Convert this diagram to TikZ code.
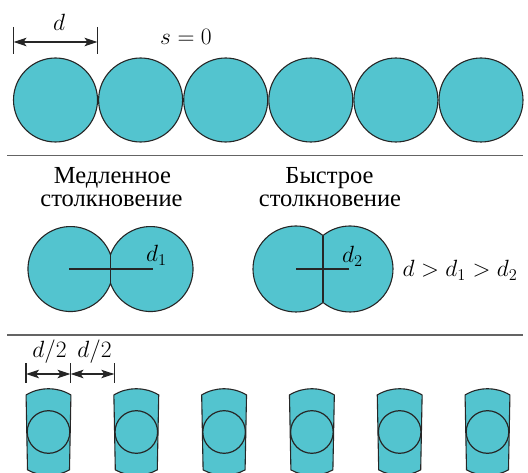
\RequirePackage{fix-cm}
\documentclass[tikz,border=0pt]{standalone}
\usepackage[no-math]{fontspec}
\newfontfamily\cyrfont{Liberation Serif}
\usetikzlibrary{arrows.meta}
\definecolor{ballfill}{RGB}{83,196,207}
\definecolor{rulegray}{RGB}{100,100,100}
\begin{document}
\begin{tikzpicture}[x=1pt,y=1pt,
 ball/.style={circle,draw=black!85,line width=1.1pt,fill=ballfill,minimum size=84pt,inner sep=0pt},
 shapeline/.style={draw=black!85,line width=1.1pt,fill=ballfill},
 sepline/.style={draw=rulegray,line width=1.8pt},
 tickline/.style={line width=1.2pt,draw=black!85},
 dimline/.style={line width=1.1pt,draw=black!85,{Stealth[length=13pt,width=8.5pt,inset=3pt]}-{Stealth[length=13pt,width=8.5pt,inset=3pt]}},
 lbl/.style={inner sep=0pt,font=\fontsize{23.5}{26}\selectfont},
 cyr/.style={inner sep=0pt,font=\fontsize{24.5}{26}\selectfont\cyrfont,anchor=base}
]
\useasboundingbox (0,0) rectangle (528,472);
\clip (0,0) rectangle (528,472);
% top row
\foreach \i/\x in {1/55.5,2/140.6,3/225.7,4/310.8,5/395.9,6/481}
  \node[ball] (b\i) at (\x,372) {};
\coordinate (t1a) at (13.5,445); \coordinate (t1b) at (13.5,418);
\coordinate (t2a) at (97.5,445); \coordinate (t2b) at (97.5,418);
\draw[tickline] (t1a) -- (t1b);
\draw[tickline] (t2a) -- (t2b);
\coordinate (a1) at (13.5,430); \coordinate (a2) at (97.5,430);
\draw[dimline] (a1) -- (a2);
\node[lbl] (dlab) at (59,450) {$d$};
\node[lbl] (s0) at (186,435) {$s=0$};
% separator 1
\coordinate (l1a) at (7,316.5); \coordinate (l1b) at (523,316.5);
\draw[sepline] (l1a) -- (l1b);
% captions
\node[cyr] (slow1) at (112.5,288.7) {Медленное};
\node[cyr] (slow2) at (111.5,265.3) {столкновение};
\node[cyr] (fast1) at (329.5,288.7) {Быстрое};
\node[cyr] (fast2) at (330,265.3) {столкновение};
% slow collision
\draw[shapeline] (110.5,217.3) arc[start angle=19.7,end angle=340.3,radius=42.5]
  arc[start angle=199.7,end angle=520.3,radius=42.5] -- cycle;
\coordinate (sc1) at (110.5,217.3); \coordinate (sc2) at (110.5,188.7);
\draw[tickline] (sc1) -- (sc2);
\coordinate (sl) at (69,203); \coordinate (sr) at (153,203);
\draw[tickline] (sl) -- (sr);
\node[lbl] (d1) at (156.5,216.5) {$d_1$};
% fast collision
\draw[shapeline] (323,236.47) arc[start angle=51.1,end angle=308.9,radius=43]
  arc[start angle=231.1,end angle=488.9,radius=43] -- cycle;
\coordinate (fc1) at (323,236.47); \coordinate (fc2) at (323,169.53);
\draw[tickline] (fc1) -- (fc2);
\coordinate (fl) at (296,203); \coordinate (fr) at (349,203);
\draw[tickline] (fl) -- (fr);
\node[lbl] (d2) at (352.5,215.5) {$d_2$};
\node[lbl,anchor=base] (rel) at (460,195.5) {$d>d_1>d_2$};
% separator 2
\coordinate (l2a) at (7,137); \coordinate (l2b) at (523,137);
\draw[sepline] (l2a) -- (l2b);
% bottom dimensions
\coordinate (u1a) at (26,109); \coordinate (u1b) at (26,89);
\coordinate (u2a) at (70.5,109); \coordinate (u2b) at (70.5,89);
\coordinate (u3a) at (114.3,109); \coordinate (u3b) at (114.3,89);
\draw[tickline] (u1a) -- (u1b);
\draw[tickline] (u2a) -- (u2b);
\draw[tickline] (u3a) -- (u3b);
\coordinate (v1) at (26,98); \coordinate (v2) at (70.5,98); \coordinate (v3) at (114.3,98);
\draw[dimline] (v1) -- (v2);
\draw[dimline] (v2) -- (v3);
\node[lbl] (h1) at (49.5,120) {$d/2$};
\node[lbl] (h2) at (94.5,120) {$d/2$};
% bottom row
\foreach \cx in {48.5,136.3,224.1,311.9,399.7,487.5} {
  \draw[shapeline] (\cx-22.43,77.03) arc[start angle=121.2,end angle=58.8,radius=43.3]
    -- (\cx+20.99,2.13) arc[start angle=-61,end angle=-119,radius=43.3] -- cycle;
  \draw[tickline] (\cx,40) circle[radius=21.3];
}
\end{tikzpicture}
\end{document}
